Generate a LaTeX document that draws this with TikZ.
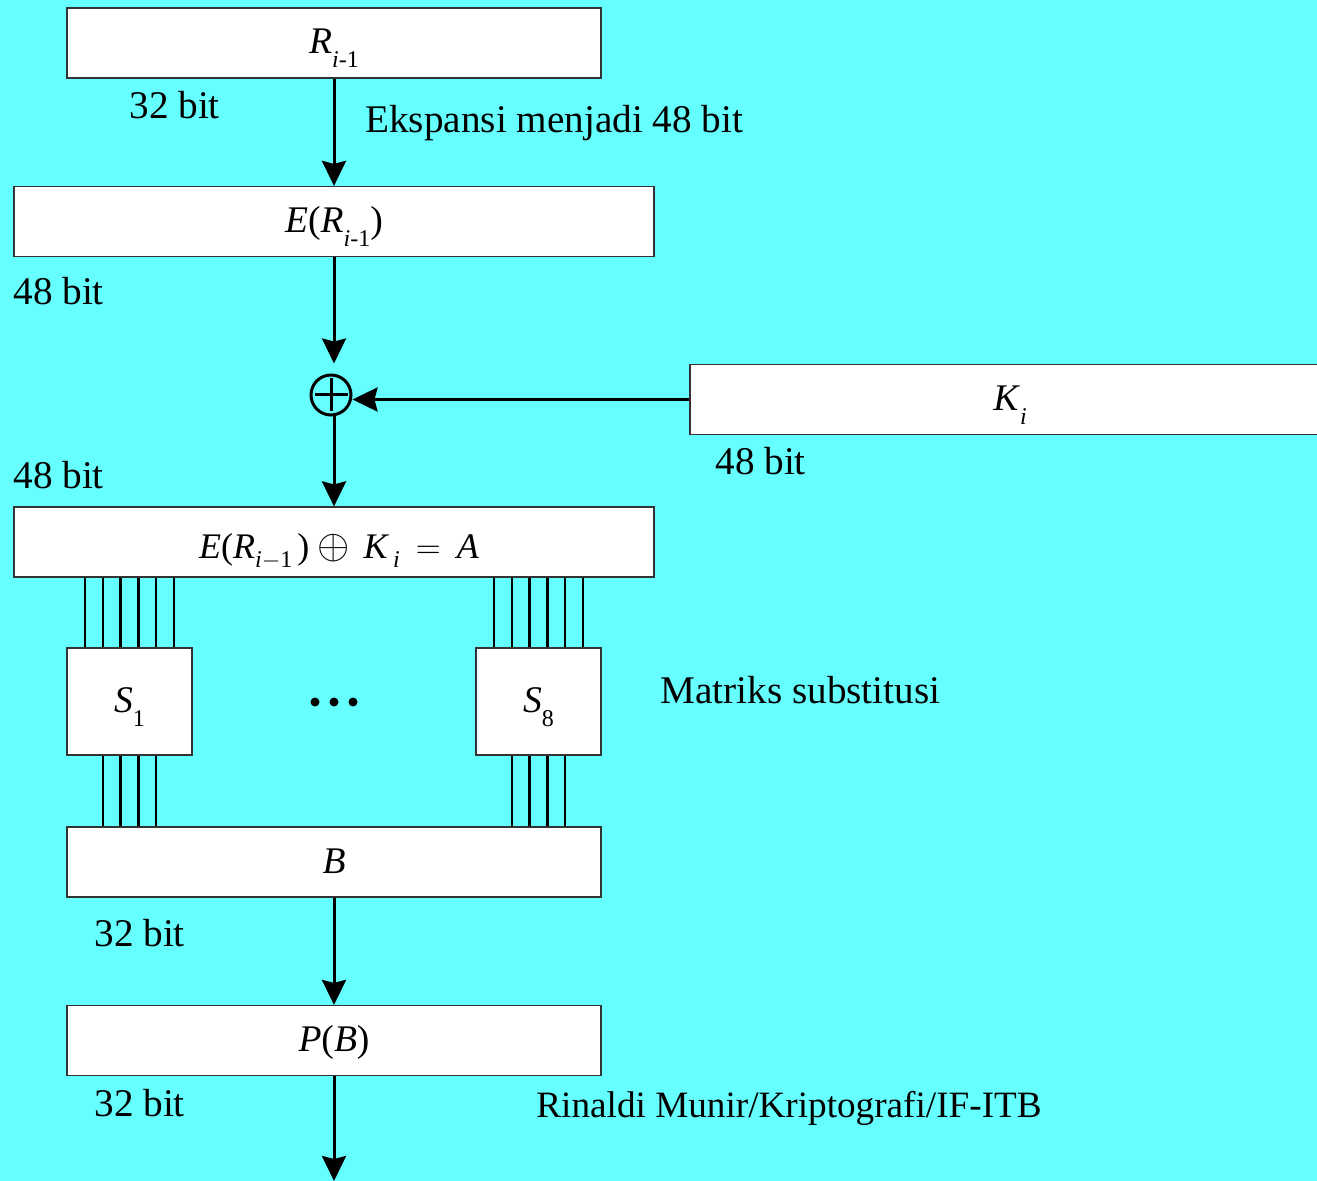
\documentclass[tikz,border=0pt]{standalone}
\usepackage{fontspec}
\setmainfont{Liberation Serif}
\usetikzlibrary{arrows.meta,calc}
\definecolor{bgcyan}{RGB}{102,255,255}
\newcommand{\lowsub}[2][7pt]{\raisebox{-#1}{\fontsize{12}{12}\selectfont #2}}
\newcommand{\lblfont}{\fontsize{19.6}{23}\selectfont}
\newcommand{\boxfont}{\fontsize{18.8}{22}\selectfont}
\begin{document}
\begin{tikzpicture}[x=0.5pt,y=-0.5pt,
  box/.style={draw=black!80, line width=0.6pt, fill=white, minimum width=267pt,
    minimum height=35pt, inner sep=0pt, text height=11pt, text depth=0pt, font=\boxfont},
  widebox/.style={box, minimum width=320pt},
  sbox/.style={box, minimum width=62.5pt, minimum height=53.5pt},
  lbl/.style={anchor=base west, inner sep=0pt, font=\lblfont},
  arr/.style={line width=1.5pt, -{Stealth[length=12.5pt,width=12pt,inset=1.5pt]}},
  wire/.style={line width=1.2pt}]
\useasboundingbox (0,0) rectangle (1317,1181);
\clip (0,0) rectangle (1317,1181);
\fill[bgcyan] (0,0) rectangle (1317,1181);

% boxes
\node[box] (R) at (334,43) {\textit{R}\lowsub{\textit{i}-1}};
\node[widebox] (ER) at (334,221.5) {\textit{E}(\textit{R}\lowsub{\textit{i}-1})};
\node[widebox] (K) at (1010,399.5) {\textit{K}\lowsub{\textit{i}}};
\node[widebox, text height=16.6pt, font=\fontsize{18}{21}\selectfont] (A) at (334,542)
  {\hspace*{5pt}\textit{E}(\textit{R}\lowsub[4.7pt]{\textit{i}$-$1}\hspace{2.5pt})\hspace{4pt}{\fontsize{20}{20}\selectfont$\oplus$}\hspace{7pt}\textit{K}\hspace{2pt}\lowsub[4.7pt]{\textit{i}}\hspace{8pt}{\fontsize{17}{17}\selectfont$=$}\hspace{8pt}\textit{A}};
\node[sbox] (S1) at (129.5,701.5) {\textit{S}\lowsub{1}};
\node[sbox] (S8) at (538.5,701.5) {\textit{S}\lowsub{8}};
\node[box] (B) at (334,862) {\textit{B}};
\node[box] (P) at (334,1040.5) {\textit{P}(\textit{B})};
\coordinate (out) at (334,1181);

% xor
\node[circle, draw, line width=1.5pt, minimum size=20pt, inner sep=0pt] (X) at (331,395) {};
\draw[line width=1.5pt] ($(X.center)+(-16.5,0)$) -- ($(X.center)+(16.5,0)$);
\draw[line width=1.5pt] ($(X.center)+(0,-16.5)$) -- ($(X.center)+(0,16.5)$);

% arrows
\draw[arr] (R.south) -- (ER.north);
\draw[arr, shorten >=5pt] (ER.south) -- (ER.south |- X.north);
\draw[arr] (K.west) -- (K.west -| X.east);
\draw[arr] (A.north |- X.south) -- (A.north);
\draw[arr] (B.south) -- (P.north);
\draw[arr] (P.south) -- (out);

% wires
\foreach \s in {S1,S8}{
  \foreach \k in {-2.5,-1.5,-0.5,0.5,1.5,2.5}{
    \draw[wire] ($(\s.north)+(\k*17.7,0)$) coordinate (t) -- (t |- A.south);
  }
  \foreach \k in {-1.5,-0.5,0.5,1.5}{
    \draw[wire] ($(\s.south)+(\k*17.7,0)$) coordinate (t) -- (t |- B.north);
  }
}

% dots
\fill (315,702) circle (2.25pt);
\fill (334,702) circle (2.25pt);
\fill (353,702) circle (2.25pt);

% labels
\node[lbl] (l1) at (129,119) {32 bit};
\node[lbl] (l2) at (365,133) {Ekspansi menjadi 48 bit};
\node[lbl] (l3) at (13,305) {48 bit};
\node[lbl] (l4) at (13,489) {48 bit};
\node[lbl] (l5) at (715,475) {48 bit};
\node[lbl] (l6) at (660,703) {Matriks substitusi};
\node[lbl] (l7) at (94,946) {32 bit};
\node[lbl] (l8) at (94,1116) {32 bit};
\node[lbl, font=\fontsize{18.6}{22}\selectfont] (l9) at (536,1117) {Rinaldi Munir/Kriptografi/IF-ITB};
\end{tikzpicture}
\end{document}
